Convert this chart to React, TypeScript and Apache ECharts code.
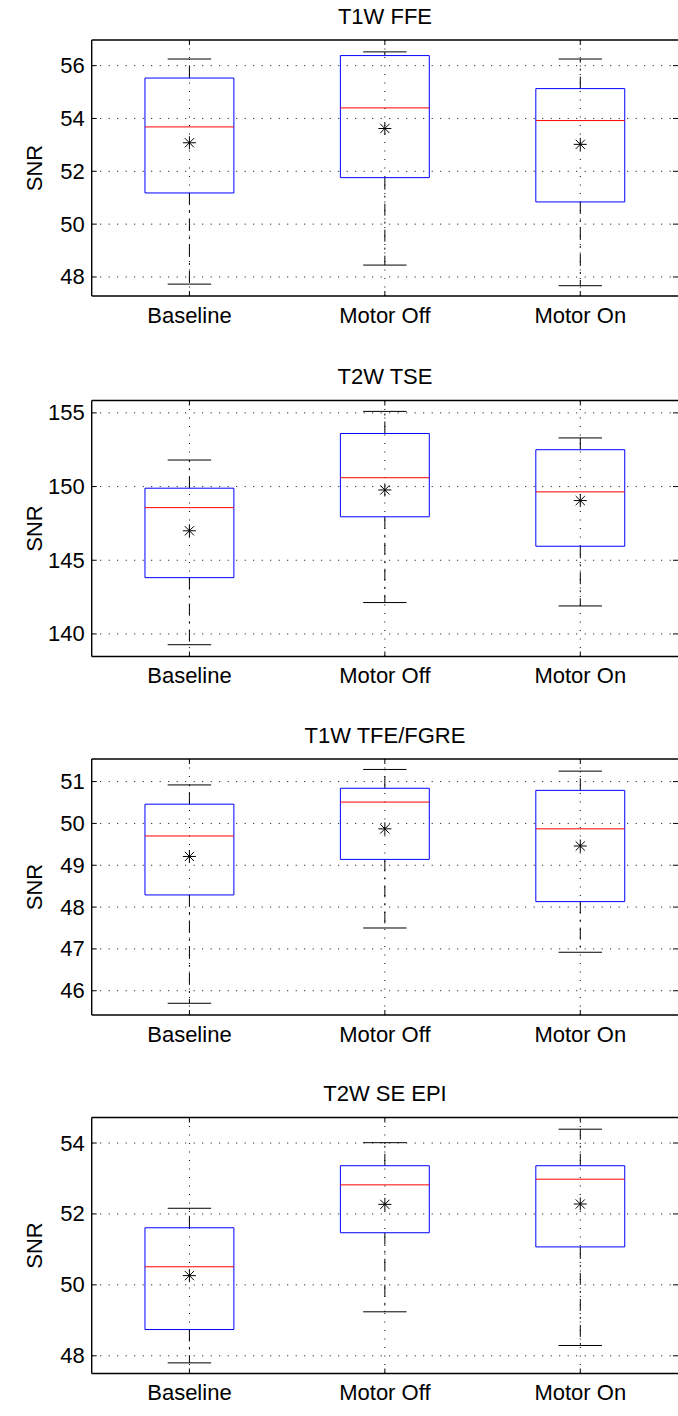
import React, { useEffect, useRef } from 'react';
import * as echarts from 'echarts';

const categories = ['Baseline', 'Motor Off', 'Motor On'];
const titles = ['T1W FFE', 'T2W TSE', 'T1W TFE/FGRE', 'T2W SE EPI'];

// each box: [lower whisker, q1, median, q3, upper whisker]
const t1wFfeBoxes = [
  [47.73, 51.18, 53.68, 55.53, 56.25],
  [48.45, 51.76, 54.4, 56.38, 56.52],
  [47.67, 50.84, 53.92, 55.13, 56.25],
];
const t1wFfeMeans = [53.08, 53.62, 53.02];

const t2wTseBoxes = [
  [139.27, 143.82, 148.57, 149.89, 151.8],
  [142.13, 147.95, 150.6, 153.6, 155.1],
  [141.9, 145.95, 149.64, 152.5, 153.3],
];
const t2wTseMeans = [147.0, 149.77, 149.05];

const t1wTfeBoxes = [
  [45.7, 48.29, 49.7, 50.46, 50.92],
  [47.5, 49.14, 50.51, 50.84, 51.29],
  [46.92, 48.13, 49.87, 50.79, 51.25],
];
const t1wTfeMeans = [49.21, 49.87, 49.46];

const t2wEpiBoxes = [
  [47.8, 48.74, 50.51, 51.61, 52.16],
  [49.24, 51.47, 52.82, 53.36, 54.01],
  [48.29, 51.07, 52.98, 53.36, 54.39],
];
const t2wEpiMeans = [50.26, 52.27, 52.28];

const t1wFfeTicks = [48, 50, 52, 54, 56];
const t2wTseTicks = [140, 145, 150, 155];
const t1wTfeTicks = [46, 47, 48, 49, 50, 51];
const t2wEpiTicks = [48, 50, 52, 54];

const yMins = [47.28, 138.47, 45.42, 47.5];
const yMaxs = [56.97, 155.84, 51.54, 54.72];

const panelBoxes = [t1wFfeBoxes, t2wTseBoxes, t1wTfeBoxes, t2wEpiBoxes];
const panelMeans = [t1wFfeMeans, t2wTseMeans, t1wTfeMeans, t2wEpiMeans];
const panelTicks = [t1wFfeTicks, t2wTseTicks, t1wTfeTicks, t2wEpiTicks];

const FONT = '"Liberation Sans", Arial, Helvetica, sans-serif';
const GRID_LEFT = 91.7;
const GRID_WIDTH = 586.5;
const GRID_HEIGHT = 256;
const GRID_TOPS = [40, 400.5, 759, 1117.5];
const TICK_LEN = 5;
const DOT = [1, 7.5];
const BORDER_W = 1.4;

function buildOption() {
  const grid: any[] = [];
  const xAxis: any[] = [];
  const yAxis: any[] = [];
  const series: any[] = [];
  const graphic: any[] = [];

  for (let i = 0; i < 4; i++) {
    grid.push({
      left: GRID_LEFT,
      top: GRID_TOPS[i],
      width: GRID_WIDTH,
      height: GRID_HEIGHT,
      show: false,
    });
    xAxis.push({
      type: 'category',
      gridIndex: i,
      data: categories,
      boundaryGap: true,
      axisLine: { show: false },
      axisTick: { show: false },
      splitLine: { show: false },
      axisLabel: { fontSize: 22, color: '#000', margin: 8, fontFamily: FONT },
    });
    yAxis.push({
      type: 'value',
      gridIndex: i,
      min: yMins[i],
      max: yMaxs[i],
      axisLine: { show: false },
      axisTick: { show: false },
      splitLine: { show: false },
      axisLabel: {
        fontSize: 22,
        color: '#000',
        margin: 7,
        fontFamily: FONT,
        customValues: panelTicks[i],
      },
    });

    // horizontal dotted grid lines + inward ticks left/right
    series.push({
      type: 'custom',
      xAxisIndex: i,
      yAxisIndex: i,
      silent: true,
      clip: false,
      z: 1,
      encode: { x: 0, y: 1 },
      data: panelTicks[i].map((v) => [0, v]),
      renderItem: (params: any, api: any) => {
        const cs = params.coordSys;
        const y = api.coord([0, api.value(1)])[1];
        return {
          type: 'group',
          children: [
            {
              type: 'line',
              shape: { x1: cs.x, y1: y, x2: cs.x + cs.width, y2: y },
              style: { stroke: '#000', lineWidth: 1, lineDash: DOT, fill: 'none' },
            },
            {
              type: 'line',
              shape: { x1: cs.x, y1: y, x2: cs.x + TICK_LEN, y2: y },
              style: { stroke: '#000', lineWidth: 1, fill: 'none' },
            },
            {
              type: 'line',
              shape: { x1: cs.x + cs.width - TICK_LEN, y1: y, x2: cs.x + cs.width, y2: y },
              style: { stroke: '#000', lineWidth: 1, fill: 'none' },
            },
          ],
        };
      },
    });

    // vertical dotted grid lines at categories + inward ticks top/bottom + axes frame
    series.push({
      type: 'custom',
      xAxisIndex: i,
      yAxisIndex: i,
      silent: true,
      clip: false,
      z: 1,
      encode: { x: 0, y: 1 },
      data: categories.map((_, j) => [j, yMins[i]]),
      renderItem: (params: any, api: any) => {
        const cs = params.coordSys;
        const x = api.coord([api.value(0), api.value(1)])[0];
        const children: any[] = [
          {
            type: 'line',
            shape: { x1: x, y1: cs.y, x2: x, y2: cs.y + cs.height },
            style: { stroke: '#000', lineWidth: 1, lineDash: DOT, fill: 'none' },
          },
          {
            type: 'line',
            shape: { x1: x, y1: cs.y, x2: x, y2: cs.y + TICK_LEN },
            style: { stroke: '#000', lineWidth: 1, fill: 'none' },
          },
          {
            type: 'line',
            shape: { x1: x, y1: cs.y + cs.height - TICK_LEN, x2: x, y2: cs.y + cs.height },
            style: { stroke: '#000', lineWidth: 1, fill: 'none' },
          },
        ];
        if (params.dataIndex === 0) {
          const bs = { stroke: '#000', lineWidth: BORDER_W, fill: 'none' };
          children.push(
            { type: 'line', shape: { x1: cs.x, y1: cs.y, x2: cs.x, y2: cs.y + cs.height }, style: bs },
            { type: 'line', shape: { x1: cs.x, y1: cs.y, x2: cs.x + cs.width + 2, y2: cs.y }, style: bs },
            {
              type: 'line',
              shape: { x1: cs.x, y1: cs.y + cs.height, x2: cs.x + cs.width + 2, y2: cs.y + cs.height },
              style: bs,
            },
          );
        }
        return { type: 'group', children };
      },
    });

    // boxes
    series.push({
      type: 'custom',
      xAxisIndex: i,
      yAxisIndex: i,
      silent: true,
      z: 2,
      encode: { x: 0, y: [1, 2, 3, 4, 5] },
      data: panelBoxes[i].map((b, j) => [j, ...b]),
      renderItem: (params: any, api: any) => {
        const xi = api.value(0);
        const lo = api.coord([xi, api.value(1)]);
        const q1 = api.coord([xi, api.value(2)]);
        const med = api.coord([xi, api.value(3)]);
        const q3 = api.coord([xi, api.value(4)]);
        const hi = api.coord([xi, api.value(5)]);
        const band = api.size([1, 0])[0];
        const cx = lo[0];
        const bh = band * 0.2275;
        const ch = band * 0.111;
        const dash = [12, 6, 2, 6];
        return {
          type: 'group',
          children: [
            {
              type: 'line',
              shape: { x1: cx, y1: q3[1], x2: cx, y2: hi[1] },
              style: { stroke: '#000', lineWidth: 1, lineDash: dash, fill: 'none' },
            },
            {
              type: 'line',
              shape: { x1: cx, y1: q1[1], x2: cx, y2: lo[1] },
              style: { stroke: '#000', lineWidth: 1, lineDash: dash, fill: 'none' },
            },
            {
              type: 'line',
              shape: { x1: cx - ch, y1: hi[1], x2: cx + ch, y2: hi[1] },
              style: { stroke: '#000', lineWidth: 1, fill: 'none' },
            },
            {
              type: 'line',
              shape: { x1: cx - ch, y1: lo[1], x2: cx + ch, y2: lo[1] },
              style: { stroke: '#000', lineWidth: 1, fill: 'none' },
            },
            {
              type: 'rect',
              shape: { x: cx - bh, y: q3[1], width: bh * 2, height: q1[1] - q3[1] },
              style: { stroke: '#0000ff', lineWidth: 1, fill: 'none' },
            },
            {
              type: 'line',
              shape: { x1: cx - bh, y1: med[1], x2: cx + bh, y2: med[1] },
              style: { stroke: '#ff0000', lineWidth: 1, fill: 'none' },
            },
          ],
        };
      },
    });

    // means (asterisk)
    series.push({
      type: 'custom',
      xAxisIndex: i,
      yAxisIndex: i,
      silent: true,
      z: 3,
      encode: { x: 0, y: 1 },
      data: panelMeans[i].map((m, j) => [j, m]),
      renderItem: (params: any, api: any) => {
        const p = api.coord([api.value(0), api.value(1)]);
        const r = 6.5;
        const d = 4.6;
        const st = { stroke: '#000', lineWidth: 1, fill: 'none' };
        return {
          type: 'group',
          children: [
            { type: 'line', shape: { x1: p[0], y1: p[1] - r, x2: p[0], y2: p[1] + r }, style: st },
            { type: 'line', shape: { x1: p[0] - r, y1: p[1], x2: p[0] + r, y2: p[1] }, style: st },
            { type: 'line', shape: { x1: p[0] - d, y1: p[1] - d, x2: p[0] + d, y2: p[1] + d }, style: st },
            { type: 'line', shape: { x1: p[0] - d, y1: p[1] + d, x2: p[0] + d, y2: p[1] - d }, style: st },
          ],
        };
      },
    });

    graphic.push({
      type: 'text',
      x: GRID_LEFT + GRID_WIDTH / 2,
      y: GRID_TOPS[i] - 24,
      style: {
        text: titles[i],
        fontSize: 22,
        fontFamily: FONT,
        fill: '#000',
        align: 'center',
        verticalAlign: 'middle',
      },
    });
    graphic.push({
      type: 'text',
      x: 34,
      y: GRID_TOPS[i] + GRID_HEIGHT / 2,
      rotation: Math.PI / 2,
      style: {
        text: 'SNR',
        fontSize: 22,
        fontFamily: FONT,
        fill: '#000',
        align: 'center',
        verticalAlign: 'middle',
      },
    });
  }

  return {
    animation: false,
    backgroundColor: '#fff',
    grid,
    xAxis,
    yAxis,
    series,
    graphic,
  };
}

export default function App() {
  const ref = useRef<HTMLDivElement>(null);
  useEffect(() => {
    if (!ref.current) return;
    const chart = echarts.init(ref.current, undefined, { renderer: 'svg' });
    chart.setOption(buildOption() as any);
    return () => chart.dispose();
  }, []);
  return (
    <div style={{ position: 'absolute', left: 0, top: 0, width: 678, height: 1416, overflow: 'hidden', background: '#fff' }}>
      <div ref={ref} style={{ width: 678, height: 1416 }} />
    </div>
  );
}
